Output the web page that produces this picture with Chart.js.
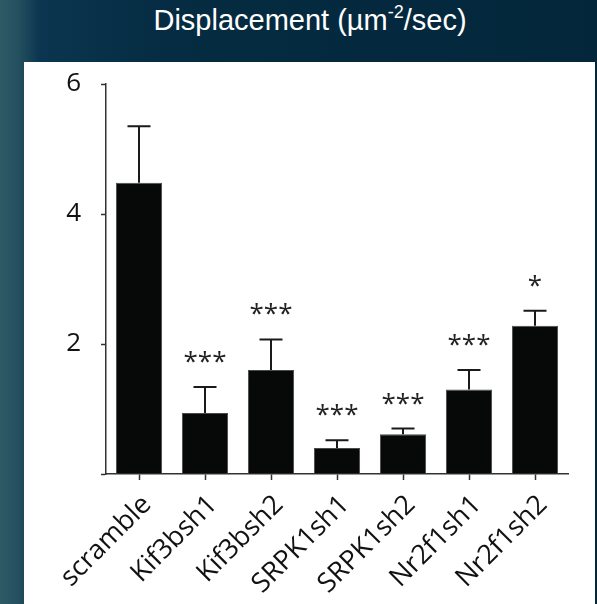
<!DOCTYPE html>
<html>
<head>
<meta charset="utf-8">
<script src="https://cdn.jsdelivr.net/npm/chart.js@4"></script>
<style>
  html, body { margin: 0; padding: 0; }
  body {
    width: 597px; height: 604px; overflow: hidden; position: relative;
    background: linear-gradient(to right, #2e5a68 0px, #24505f 18px, #0b3550 40px, #052c42 160px, #03263a 100%);
  }
  #title {
    position: absolute; left: 0; top: 6px; width: 620px; text-align: center;
    font-family: "Liberation Sans", Arial, sans-serif; font-size: 29px; line-height: 29px;
    color: #ffffff;
  }
  #title sup { font-size: 18px; line-height: 0; position: relative; top: -1px; }
  #panel {
    position: absolute; left: 24px; top: 62px; width: 571px; height: 542px; background: #ffffff;
  }
</style>
</head>
<body>
<div id="title">Displacement (µm<sup>-2</sup>/sec)</div>
<div id="panel"><canvas id="Displacement-1"></canvas></div>
<script>
const groups = ['scramble', 'Kif3bsh1', 'Kif3bsh2', 'SRPK1sh1', 'SRPK1sh2', 'Nr2f1sh1', 'Nr2f1sh2'];
const means = [4.48, 0.94, 1.60, 0.40, 0.61, 1.30, 2.28];
const sems = [0.87, 0.40, 0.47, 0.12, 0.09, 0.30, 0.23];
const stars = ['', '***', '***', '***', '***', '***', '*'];
const yTicks = [0, 2, 4, 6];

// upper error whiskers and significance stars over each bar
const errorBars = {
  id: 'errorBars',
  afterDatasetsDraw(chart) {
    const ctx = chart.ctx;
    const x = chart.scales.x;
    const y = chart.scales.y;
    ctx.save();
    ctx.strokeStyle = '#1a1a1a';
    ctx.lineWidth = 2;
    ctx.fillStyle = '#222';
    ctx.font = '26px "Open Sans"';
    ctx.textAlign = 'center';
    ctx.textBaseline = 'alphabetic';
    means.forEach((m, i) => {
      const px = x.getPixelForValue(i);
      const yBar = y.getPixelForValue(m);
      const yErr = y.getPixelForValue(m + sems[i]);
      ctx.beginPath();
      ctx.moveTo(px, yBar);
      ctx.lineTo(px, yErr);
      ctx.moveTo(px - 11.5, yErr);
      ctx.lineTo(px + 11.5, yErr);
      ctx.stroke();
      if (stars[i]) ctx.fillText(stars[i], px, yErr - 17);
    });
    ctx.restore();
  }
};

const chartEl = document.getElementById('Displacement-1');

const Displacement_1 = new Chart(chartEl, {
  type: 'bar',
  data: {
    labels: groups,
    datasets: [{
      data: means,
      backgroundColor: '#070908',
      borderColor: '#4a4a4a',
      borderWidth: 1,
      barPercentage: 0.7,
      categoryPercentage: 1
    }]
  },
  options: {
    responsive: true,
    maintainAspectRatio: false,
    animation: false,
    layout: {
      padding: { top: 22, right: 27, left: 0, bottom: 0 }
    },
    plugins: {
      legend: { display: false },
      tooltip: { enabled: false }
    },
    scales: {
      x: {
        afterFit(scale) { scale.height = 130; },
        grid: {
          offset: false,
          drawOnChartArea: false,
          drawTicks: true,
          tickLength: 6,
          tickWidth: 1.5,
          tickColor: '#333'
        },
        border: { display: true, color: '#333', width: 1.5 },
        ticks: {
          minRotation: 45,
          maxRotation: 45,
          autoSkip: false,
          padding: 9,
          labelOffset: 8,
          color: '#111',
          font: { family: 'Open Sans', size: 27 }
        }
      },
      y: {
        min: 0,
        max: 6,
        afterFit(scale) {
          scale.width = 82;
          scale.paddingTop = 0;
          scale.paddingBottom = 0;
        },
        afterBuildTicks(scale) { scale.ticks = yTicks.map(v => ({ value: v })); },
        grid: {
          drawOnChartArea: false,
          drawTicks: true,
          tickLength: 5,
          tickWidth: 1.5,
          tickColor: '#333'
        },
        border: { display: true, color: '#333', width: 1.5 },
        ticks: {
          padding: 20,
          color: '#111',
          font: { family: 'Open Sans', size: 26 },
          callback: v => (v === 0 ? '' : v)
        }
      }
    }
  },
  plugins: [errorBars]
});
</script>
</body>
</html>
